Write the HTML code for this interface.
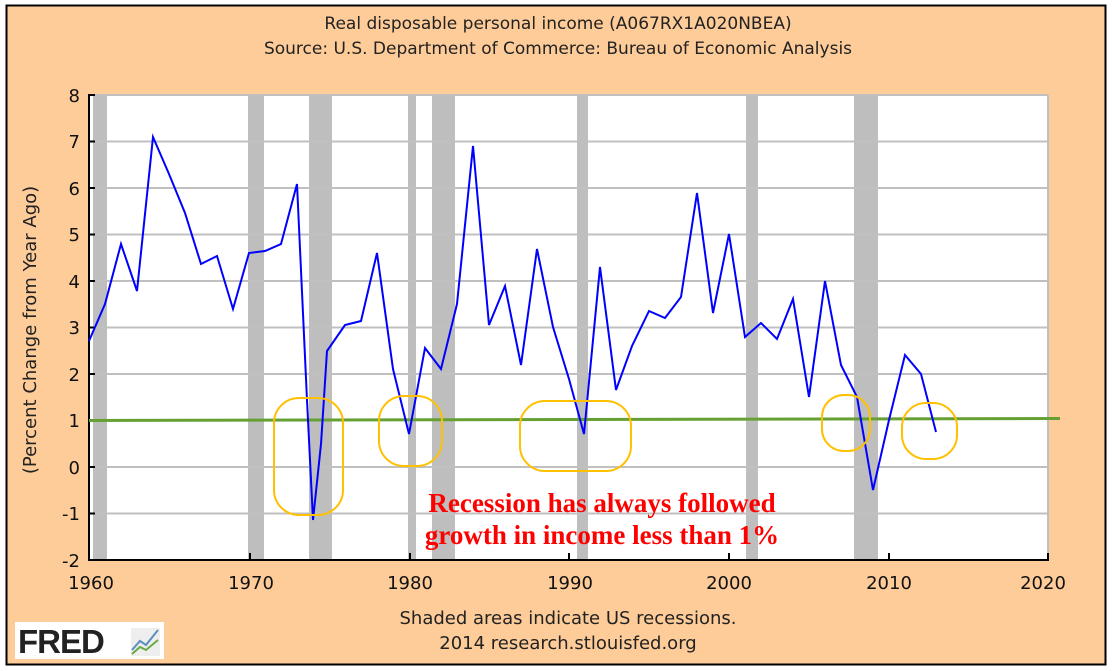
<!DOCTYPE html>
<html><head><meta charset="utf-8"><style>
body{margin:0;background:#fff;}
svg{display:block;font-family:"DejaVu Sans","Liberation Sans",sans-serif;}
</style></head><body>
<svg width="1112" height="671" viewBox="0 0 1112 671">
<rect x="6.5" y="5.5" width="1099" height="659" fill="#FECC99" stroke="#000" stroke-width="2"/>
<text x="558" y="29" font-size="17" text-anchor="middle" fill="#222">Real disposable personal income (A067RX1A020NBEA)</text>
<text x="558" y="54" font-size="17" text-anchor="middle" fill="#222">Source: U.S. Department of Commerce: Bureau of Economic Analysis</text>
<rect x="89" y="95" width="959" height="465" fill="#fff"/>
<g fill="#BEBEBE">
<rect x="93" y="95" width="14" height="465"/><rect x="248" y="95" width="16" height="465"/>
<rect x="309" y="95" width="23" height="465"/><rect x="408" y="95" width="8" height="465"/>
<rect x="432" y="95" width="23" height="465"/><rect x="577" y="95" width="11" height="465"/>
<rect x="746" y="95" width="12" height="465"/><rect x="854" y="95" width="24" height="465"/>
</g>
<g stroke="#C0C0C0" stroke-width="2">
<line x1="89" x2="1048" y1="95" y2="95"/><line x1="89" x2="1048" y1="141.5" y2="141.5"/>
<line x1="89" x2="1048" y1="188" y2="188"/><line x1="89" x2="1048" y1="234.5" y2="234.5"/>
<line x1="89" x2="1048" y1="281" y2="281"/><line x1="89" x2="1048" y1="327.5" y2="327.5"/>
<line x1="89" x2="1048" y1="374" y2="374"/><line x1="89" x2="1048" y1="467" y2="467"/>
<line x1="89" x2="1048" y1="513.5" y2="513.5"/>
<line x1="1048" x2="1048" y1="95" y2="560"/>
</g>
<g stroke="#000" stroke-width="2">
<line x1="89" x2="89" y1="94" y2="561"/><line x1="88" x2="1049" y1="560" y2="560"/>
<path d="M89 95h6M89 141.5h6M89 188h6M89 234.5h6M89 281h6M89 327.5h6M89 374h6M89 420.5h6M89 467h6M89 513.5h6"/>
<path d="M250 560v-7M410 560v-7M569 560v-7M729 560v-7M889 560v-7M1048 560v-7"/>
</g>
<g font-size="18" fill="#111" text-anchor="end">
<text x="80" y="102">8</text><text x="80" y="148">7</text><text x="80" y="195">6</text><text x="80" y="241">5</text>
<text x="80" y="288">4</text><text x="80" y="334">3</text><text x="80" y="381">2</text><text x="80" y="427">1</text>
<text x="80" y="474">0</text><text x="80" y="520">-1</text><text x="80" y="567">-2</text>
</g>
<g font-size="18" fill="#111" text-anchor="middle">
<text x="91" y="589">1960</text><text x="251" y="589">1970</text><text x="410" y="589">1980</text>
<text x="570" y="589">1990</text><text x="729" y="589">2000</text><text x="889" y="589">2010</text><text x="1043" y="589">2020</text>
</g>
<text transform="translate(36,330) rotate(-90)" font-size="18" text-anchor="middle" fill="#222">(Percent Change from Year Ago)</text>
<line x1="89" y1="420.5" x2="1060" y2="418.5" stroke="#66A033" stroke-width="3"/>
<polyline fill="none" stroke="#0000FF" stroke-width="2" points="89,341 105,304 121,244 137,291 153,137 169,174 185,213 201,264 217,256 233,309 249,253 265,251 281,244 297,184 307,400 313,520 321,444 327,351 345,325 361,321 377,253 393,369 409,434 425,348 441,369 457,304 473,146 489,325 505,286 521,365 537,249 553,327 569,379 584,434 600,267 616,390 632,346 649,311 665,318 681,297 697,193 713,313 729,234 745,337 761,323 777,339 793,299 809,397 825,281 841,365 857,397 873,490 889,420 905,355 921,374 936,432"/>
<g fill="none" stroke="#FFC000" stroke-width="2">
<rect x="274" y="398" width="69" height="117" rx="25"/>
<rect x="379" y="396" width="63" height="70" rx="25"/>
<rect x="520" y="401" width="111" height="70" rx="25"/>
<rect x="822" y="395" width="48" height="56" rx="22"/>
<rect x="902" y="403" width="55" height="56" rx="24"/>
</g>
<g font-family="Liberation Serif,serif" font-weight="bold" font-size="27" fill="#FF0000" text-anchor="middle">
<text x="602" y="512">Recession has always followed</text>
<text x="602" y="544">growth in income less than 1%</text>
</g>
<text x="568" y="624" font-size="18" text-anchor="middle" fill="#222">Shaded areas indicate US recessions.</text>
<text x="568" y="649" font-size="18" text-anchor="middle" fill="#222">2014 research.stlouisfed.org</text>
<rect x="15" y="622" width="149" height="37" fill="#fff"/>
<text x="18" y="653" font-family="Liberation Sans,sans-serif" font-weight="bold" font-size="33" fill="#222" letter-spacing="-1">FRED</text>
<rect x="131" y="628" width="29" height="28" fill="#eee"/>
<polyline points="132,650 140,641 146,645 158,630" fill="none" stroke="#5a8fc0" stroke-width="2"/>
<polyline points="132,654 140,647 146,650 158,640" fill="none" stroke="#6aaa44" stroke-width="2"/>
</svg>
</body></html>
